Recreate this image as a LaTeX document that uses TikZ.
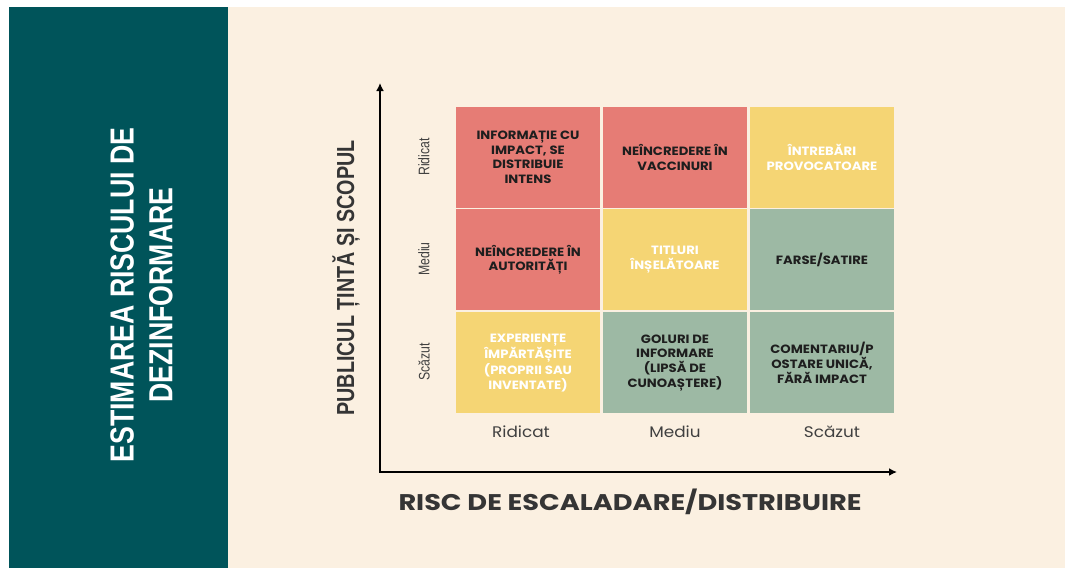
\documentclass[tikz,border=0pt]{standalone}
\usepackage{fontspec}
\setmainfont{Liberation Sans}
\newfontfamily\cellfont{Poppins}
\newfontfamily\widefont[FakeStretch=1.1]{Poppins}
\newfontfamily\extfont[FakeStretch=1.2]{Poppins}
\newfontfamily\condfont[FakeStretch=0.8]{Liberation Sans}
\usetikzlibrary{arrows.meta}
\definecolor{panelteal}{HTML}{00545A}
\definecolor{cream}{HTML}{FBF0E1}
\definecolor{cellred}{HTML}{E67C75}
\definecolor{cellyellow}{HTML}{F5D574}
\definecolor{cellgreen}{HTML}{9DB9A4}
\definecolor{ink}{HTML}{1E1E1E}
\tikzset{
  cell/.style={minimum width=108pt, minimum height=75.75pt, inner sep=0pt,
    outer sep=0pt, align=center,
    font=\widefont\bfseries\fontsize{9}{11}\selectfont},
  high/.style={cell, fill=cellred, text=ink},
  mid/.style={cell, fill=cellyellow, text=white},
  low/.style={cell, fill=cellgreen, text=ink},
  rowlab/.style={rotate=90, text=ink!85, font=\condfont\fontsize{11.5}{13}\selectfont},
  collab/.style={text=ink!85, font=\widefont\fontsize{11.5}{13}\selectfont},
  axis/.style={line width=1.9pt, line join=miter, {Latex[length=6pt,width=6pt]}-{Latex[length=6pt,width=6pt]}}
}
\begin{document}
\begin{tikzpicture}[x=0.75pt,y=-0.75pt]
\useasboundingbox (0,0) rectangle (1065,568);
% Background
\fill[white] (0,0) rectangle (1065,568);
\fill[panelteal] (9,7) rectangle (228,568);
\fill[cream] (228,7) rectangle (1065,568);
% Title
\node[rotate=90, align=center, text=white,
  font=\condfont\bfseries\fontsize{25}{29}\selectfont] (title) at (141.5,295)
  {ESTIMAREA RISCULUI DE\\DEZINFORMARE};
%
% Axes
\coordinate (origin) at (380,472);
\coordinate (ytip) at (380,83);
\coordinate (xtip) at (897,472);
\draw[axis] (ytip) -- (origin) -- (xtip);
\node[rotate=90, text=ink!90,
  font=\condfont\bfseries\fontsize{18.5}{20}\selectfont] (ytitle) at (346,278)
  {PUBLICUL ȚINTĂ ȘI SCOPUL};
\node[text=ink!90, font=\extfont\bfseries\fontsize{17}{19}\selectfont]
  (xtitle) at (630,502) {RISC DE ESCALADARE/DISTRIBUIRE};
%
% Row labels
\node[rowlab] (rhigh) at (424,157) {Ridicat};
\node[rowlab] (rmid) at (424,259) {Mediu};
\node[rowlab] (rlow) at (424,362) {Scăzut};
% Column labels
\node[collab] (chigh) at (521,432) {Ridicat};
\node[collab] (cmid) at (675,432) {Mediu};
\node[collab] (clow) at (832,432) {Scăzut};
%
% Risk matrix: top row
\node[high] (c11) at (528,157.2) {INFORMAȚIE CU\\IMPACT, SE\\DISTRIBUIE\\INTENS};
\node[high] (c12) at (675,157.2) {NEÎNCREDERE ÎN\\VACCINURI};
\node[mid] (c13) at (822,157.2) {ÎNTREBĂRI\\PROVOCATOARE};
% middle row
\node[high] (c21) at (528,259.7) {NEÎNCREDERE ÎN\\AUTORITĂȚI};
\node[mid] (c22) at (675,259.7) {TITLURI\\ÎNȘELĂTOARE};
\node[low] (c23) at (822,259.7) {FARSE/SATIRE};
% bottom row
\node[mid] (c31) at (528,362.8) {EXPERIENȚE\\ÎMPĂRTĂȘITE\\(PROPRII SAU\\INVENTATE)};
\node[low] (c32) at (675,362.8) {GOLURI DE\\INFORMARE\\(LIPSĂ DE\\CUNOAȘTERE)};
\node[low] (c33) at (822,362.8) {COMENTARIU/P\\OSTARE UNICĂ,\\FĂRĂ IMPACT};
\end{tikzpicture}
\end{document}
